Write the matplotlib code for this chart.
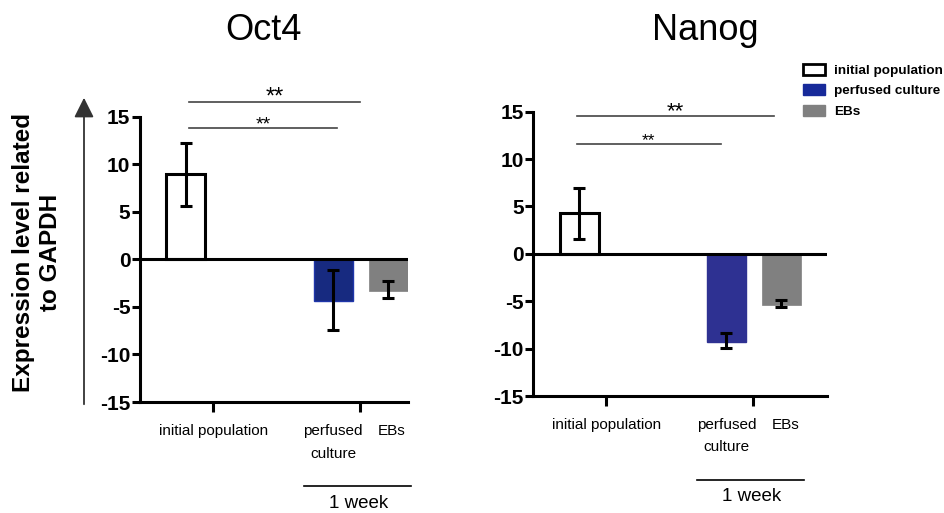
import matplotlib
matplotlib.use("Agg")
import matplotlib.pyplot as plt
from matplotlib import font_manager
from matplotlib.patches import Patch, FancyArrowPatch

# data
groups = ["initial population", "perfused\nculture", "EBs"]
titles = ["Oct4", "Nanog"]
oct4_mean = [9.0, -4.4, -3.3]
oct4_err_lo = [5.6, -7.4, -4.1]
oct4_err_hi = [12.2, -1.15, -2.3]
nanog_mean = [4.3, -9.25, -5.45]
nanog_err_lo = [1.6, -9.95, -5.6]
nanog_err_hi = [6.9, -8.3, -4.9]
yticks = [-15, -10, -5, 0, 5, 10, 15]
legend_labels = ["initial population", "perfused culture", "EBs"]

# significance brackets (x start, x end, y, star size)
oct4_sig = [(1.22, 5.5, 16.5, 17), (1.22, 4.93, 13.8, 14)]
nanog_sig = [(1.085, 6.02, 14.5, 16), (1.085, 4.69, 11.6, 12.5)]

# narrow font for the category labels if there is one
try:
    font_manager.findfont("Liberation Sans Narrow", fallback_to_default=False)
    narrow, narrow_size = "Liberation Sans Narrow", 13
except Exception:
    narrow, narrow_size = "Liberation Sans", 11

plt.rcParams['font.family'] = ['Liberation Sans', 'DejaVu Sans']

bar_x = [1.15, 4.83, 6.2]
bar_w = 0.975
lw = 2.2

fig = plt.figure(figsize=(9.45, 5.13), dpi=100)
ax1 = fig.add_axes([140/945, 1-402/513, 268/945, 285.3/513])
ax2 = fig.add_axes([533.3/945, 1-396/513, 293.4/945, 284.3/513])

panels = [
    (ax1, oct4_mean, oct4_err_lo, oct4_err_hi, oct4_sig, 6.7, '#172a80', '#1f36aa'),
    (ax2, nanog_mean, nanog_err_lo, nanog_err_hi, nanog_sig, 7.335, '#2e3192', '#2e3192'),
]

for ax, mean, lo, hi, sig, xmax, blue, blue_edge in panels:
    faces = ['white', blue, '#808080']
    edges = ['black', blue_edge, '#808080']
    lws = [lw, 1, 0.5]
    for i in range(3):
        ax.bar(bar_x[i], mean[i], width=bar_w, color=faces[i], edgecolor=edges[i],
               linewidth=lws[i], zorder=2)
        ax.errorbar(bar_x[i], (lo[i] + hi[i]) / 2, yerr=(hi[i] - lo[i]) / 2, fmt='none',
                    ecolor='black', elinewidth=lw, capsize=4.3, capthick=lw, zorder=3)
    ax.axhline(0, color='black', lw=lw, zorder=4)
    ax.set_xlim(0, xmax)
    ax.set_ylim(-15, 15)
    ax.set_yticks(yticks)
    ax.set_yticklabels([str(t) for t in yticks], fontsize=15, fontweight='bold')
    ax.set_xticks([1.83, 5.5])
    ax.set_xticklabels([])
    ax.tick_params(axis='y', length=6, width=lw, pad=1)
    ax.tick_params(axis='x', length=7, width=lw)
    for s in ['top', 'right']:
        ax.spines[s].set_visible(False)
    for s in ['left', 'bottom']:
        ax.spines[s].set_linewidth(lw)

    # category labels
    xt = ax.get_xaxis_transform()
    ax.text(1.83, -0.078, groups[0], transform=xt, ha='center', va='top',
            fontsize=narrow_size, family=narrow)
    ax.text(bar_x[1], -0.078, groups[1], transform=xt, ha='center', va='top',
            fontsize=narrow_size, family=narrow, linespacing=1.75)
    ax.text(bar_x[2] + 0.1, -0.078, groups[2], transform=xt, ha='center',
            va='top', fontsize=narrow_size, family=narrow)

    # 1 week bracket
    ax.plot([4.1, 6.78], [-0.296, -0.296], color='black', lw=1.2, transform=xt, clip_on=False)
    ax.text(5.47, -0.325, "1 week", transform=xt, ha='center', va='top', fontsize=13.5)

    # significance
    for x0, x1, y, fs in sig:
        ax.plot([x0, x1], [y, y], color='#444444', lw=1.2, clip_on=False)
        ax.text((x0 + x1) / 2, y - 0.1, "**", ha='center', va='baseline', fontsize=fs)

# titles
fig.text(263/945, 1-30/513, titles[0], ha='center', va='center', fontsize=26)
fig.text(705/945, 1-30/513, titles[1], ha='center', va='center', fontsize=26)

# y label with arrow
fig.text(37/945, 1-252/513, "Expression level related\nto GAPDH", rotation=90, ha='center',
         va='center', fontsize=17.5, fontweight='bold', linespacing=1.2)
fig.add_artist(FancyArrowPatch((84/945, 1-407/513), (84/945, 1-95/513),
               transform=fig.transFigure, arrowstyle='-|>,head_length=6,head_width=3',
               color='#333333', lw=1.3, mutation_scale=2))

handles = [Patch(facecolor='white', edgecolor='black', linewidth=2),
           Patch(facecolor='#172a9a', edgecolor='#172a9a'),
           Patch(facecolor='#808080', edgecolor='#808080')]
fig.legend(handles, legend_labels, loc='upper left', bbox_to_anchor=(803/945, 1-64/513),
           frameon=False, borderpad=0, borderaxespad=0, handlelength=1.6, handleheight=0.85,
           handletextpad=0.7, labelspacing=0.55, prop={'size': 9.7, 'weight': 'bold'})

fig.savefig("out.png", dpi=100)
